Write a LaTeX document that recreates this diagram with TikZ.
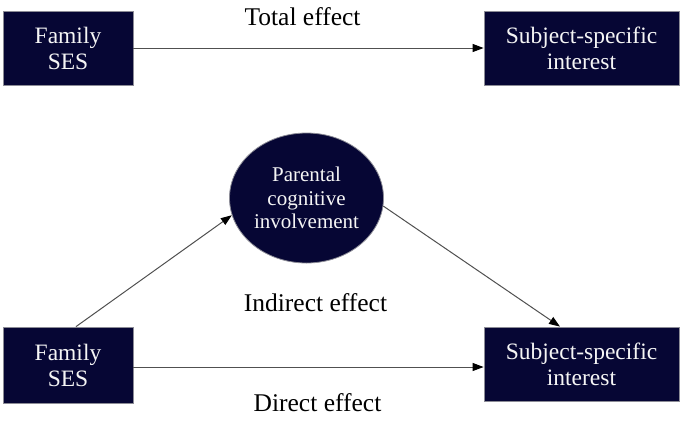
\documentclass[tikz,border=0pt]{standalone}
\usepackage{fontspec}
\setmainfont{Liberation Serif}
\usetikzlibrary{arrows.meta,shapes.geometric}
\definecolor{navy}{RGB}{6,6,52}
\definecolor{txtc}{RGB}{245,245,245}
\definecolor{edgec}{RGB}{140,140,150}
\definecolor{connc}{RGB}{80,80,80}
\begin{document}
\begin{tikzpicture}[x=1pt,y=-1pt,
  box/.style={draw=edgec,line width=0.8pt,fill=navy,text=txtc,align=center,inner sep=0pt,
    font=\fontsize{23.5}{26}\selectfont},
  circ/.style={ellipse,draw=edgec,line width=0.8pt,fill=navy,text=txtc,align=center,inner sep=0pt,
    minimum width=154pt,minimum height=130pt,font=\fontsize{21}{23.5}\selectfont},
  lab/.style={font=\fontsize{25.5}{28}\selectfont,text=black,anchor=base,inner sep=0pt},
  conn/.style={draw=connc,line width=1pt,-{Triangle[length=11pt,width=8pt,color=black]}}]
\useasboundingbox (0,0) rectangle (685,424);
% top row
\node[box,minimum width=130pt,minimum height=74pt] (tl) at (68,48) {Family\\SES};
\node[box,minimum width=195pt,minimum height=74pt] (tr) at (581.5,48) {Subject-specific\\interest};
\node[lab] (tot) at (302.5,25) {Total effect};
% mediation
\node[circ] (pci) at (306.5,198) {Parental\\cognitive\\involvement};
\node[box,minimum width=130pt,minimum height=76pt] (bl) at (68,365) {Family\\SES};
\node[box,minimum width=195pt,minimum height=74pt] (br) at (581.5,364) {Subject-specific\\interest};
\node[lab] (ind) at (315.5,311) {Indirect effect};
\node[lab] (dir) at (317.5,411) {Direct effect};
% connectors
\draw[conn] (tl.east) -- (tr.west);
\draw[conn] ([yshift=-2pt]bl.east) -- ([yshift=-2pt]bl.east -| br.west);
\draw[conn] ([xshift=8pt]bl.north) -- (pci.193.8);
\draw[conn] (pci.-6.7) -- ([xshift=-21.5pt]br.north);
\end{tikzpicture}
\end{document}
